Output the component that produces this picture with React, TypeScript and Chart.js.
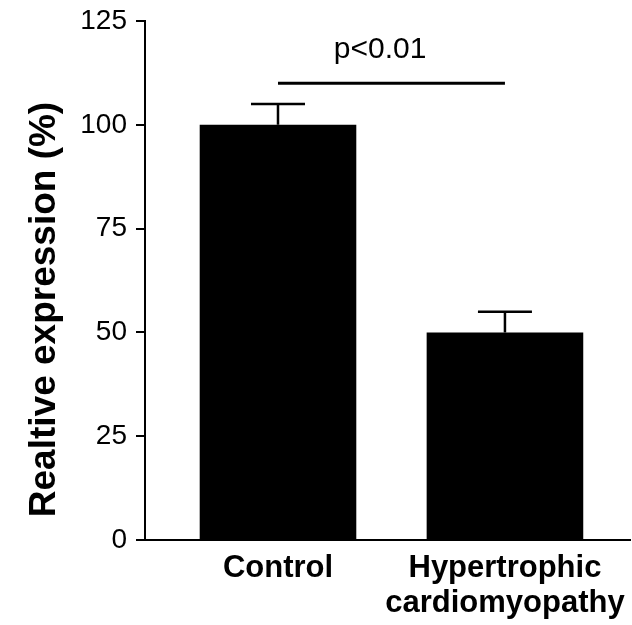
import React, { useEffect, useRef } from 'react';
import { Chart, registerables } from 'chart.js';
Chart.register(...registerables);

// ---- data ----
const categories: (string | string[])[] = ['Control', ['Hypertrophic', 'cardiomyopathy']];
const values = [100, 50];
const errors = [5, 5];
const yMin = 0;
const yMax = 125;
const yStep = 25;
const yTitle = 'Realtive expression (%)';
const sigLabel = 'p<0.01';
const sigLevel = 110;
const sigLabelLevel = 116;
const sigLabelPos = 0.45;

const FONT = '"Liberation Sans", Arial, Helvetica, sans-serif';

export default function App() {
  const ref = useRef<HTMLCanvasElement>(null);
  useEffect(() => {
    if (!ref.current) return;
    const overlay = {
      id: 'overlay',
      afterDatasetsDraw(chart: any) {
        const { ctx, scales } = chart;
        const x = scales.x;
        const y = scales.y;
        ctx.save();
        ctx.strokeStyle = '#000';
        ctx.fillStyle = '#000';
        ctx.lineWidth = 2.5;
        values.forEach((v, i) => {
          const px = x.getPixelForValue(i);
          const top = y.getPixelForValue(v + errors[i]);
          const base = y.getPixelForValue(v);
          ctx.beginPath();
          ctx.moveTo(px, base);
          ctx.lineTo(px, top);
          ctx.moveTo(px - 27, top);
          ctx.lineTo(px + 27, top);
          ctx.stroke();
        });
        const sy = y.getPixelForValue(sigLevel);
        ctx.lineWidth = 3;
        ctx.beginPath();
        ctx.moveTo(x.getPixelForValue(0), sy);
        ctx.lineTo(x.getPixelForValue(1), sy);
        ctx.stroke();
        ctx.font = `30px ${FONT}`;
        ctx.textAlign = 'center';
        ctx.textBaseline = 'alphabetic';
        ctx.fillText(sigLabel, x.getPixelForValue(sigLabelPos), y.getPixelForValue(sigLabelLevel));
        // y axis title
        ctx.font = `bold 37px ${FONT}`;
        ctx.translate(55, (chart.chartArea.top + chart.chartArea.bottom) / 2 + 29);
        ctx.rotate(-Math.PI / 2);
        ctx.fillText(yTitle, 0, 0);
        ctx.restore();
      },
    };
    const chart = new Chart(ref.current, {
      type: 'bar',
      data: {
        datasets: [
          {
            data: values.map((v, i) => ({ x: i, y: v })),
            backgroundColor: '#000',
            borderWidth: 0,
            barPercentage: 0.69,
            categoryPercentage: 1,
          },
        ],
      },
      options: {
        animation: false,
        responsive: true,
        maintainAspectRatio: false,
        layout: { padding: { top: 21, right: 2, left: 0, bottom: 0 } },
        plugins: { legend: { display: false }, tooltip: { enabled: false } },
        scales: {
          x: {
            type: 'linear',
            offset: false,
            min: -0.586,
            max: 1.551,
            afterBuildTicks: (s: any) => {
              s.ticks = categories.map((_, i) => ({ value: i }));
            },
            afterFit: (s: any) => {
              s.height = 85;
              s.paddingLeft = 0;
              s.paddingRight = 0;
            },
            ticks: {
              callback: (v: any) => categories[v as number] ?? '',
              color: '#000',
              font: { family: FONT, size: 31, weight: 'bold', lineHeight: 1.13 },
              padding: 11,
              maxRotation: 0,
              autoSkip: false,
            },
            grid: { offset: false, drawOnChartArea: false, drawTicks: false },
            border: { display: true, color: '#000', width: 2 },
          },
          y: {
            min: yMin,
            max: yMax,
            afterFit: (s: any) => {
              s.width = 145;
              s.paddingTop = 0;
              s.paddingBottom = 0;
            },
            ticks: {
              stepSize: yStep,
              color: '#000',
              font: { family: FONT, size: 28 },
              padding: 9,
            },
            grid: { drawOnChartArea: false, tickLength: 9, color: '#000', lineWidth: 2 },
            border: { display: true, color: '#000', width: 2 },
          },
        },
      },
      plugins: [overlay],
    });
    return () => chart.destroy();
  }, []);
  return (
    <div style={{ position: 'fixed', left: 0, top: 0, width: 632, height: 625, background: '#fff' }}>
      <canvas ref={ref} />
    </div>
  );
}
